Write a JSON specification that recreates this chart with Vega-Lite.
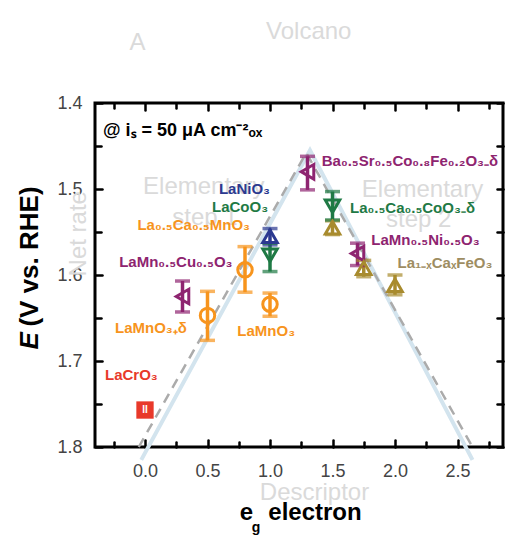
{
  "$schema": "https://vega.github.io/schema/vega-lite/v6.json",
  "width": 408,
  "height": 344,
  "autosize": {"type": "none"},
  "padding": {"left": 95, "top": 103, "right": 3, "bottom": 88},
  "background": "white",
  "config": {"view": {"stroke": "black", "strokeWidth": 3}, "font": "Liberation Sans"},
  "datasets": {
    "pts": [
      {"name": "LaCrO3", "grp": "Cr", "x": 0.0, "y": 1.757, "lo": 1.752, "hi": 1.762},
      {"name": "LaMn0.5Cu0.5O3", "grp": "Pu", "x": 0.3, "y": 1.625, "lo": 1.607, "hi": 1.643},
      {"name": "LaMnO3+d", "grp": "Mn", "x": 0.5, "y": 1.647, "lo": 1.619, "hi": 1.676},
      {"name": "La0.5Ca0.5MnO3", "grp": "Mn", "x": 0.8, "y": 1.594, "lo": 1.567, "hi": 1.62},
      {"name": "LaMnO3", "grp": "Mn", "x": 1.0, "y": 1.634, "lo": 1.621, "hi": 1.648},
      {"name": "LaNiO3", "grp": "Ni", "x": 1.0, "y": 1.555, "lo": 1.546, "hi": 1.565},
      {"name": "LaCoO3", "grp": "Co", "x": 1.0, "y": 1.577, "lo": 1.563, "hi": 1.596},
      {"name": "BSCF", "grp": "Pu", "x": 1.3, "y": 1.48, "lo": 1.462, "hi": 1.501},
      {"name": "La1-xCaxFeO3", "grp": "Fe", "x": 1.5, "y": 1.545, "lo": 1.537, "hi": 1.553},
      {"name": "La0.5Ca0.5CoO3-d", "grp": "Co", "x": 1.5, "y": 1.52, "lo": 1.503, "hi": 1.536},
      {"name": "LaMn0.5Ni0.5O3", "grp": "Pu", "x": 1.7, "y": 1.575, "lo": 1.563, "hi": 1.589},
      {"name": "La1-xCaxFeO3", "grp": "Fe", "x": 1.75, "y": 1.592, "lo": 1.583, "hi": 1.602},
      {"name": "La1-xCaxFeO3", "grp": "Fe", "x": 2.0, "y": 1.612, "lo": 1.6, "hi": 1.623}
    ],
    "vol": [
      {"k": "dash", "x": -0.05, "y": 1.8},
      {"k": "dash", "x": 1.29, "y": 1.458},
      {"k": "dash", "x": 2.62, "y": 1.8},
      {"k": "blue", "x": -0.03, "y": 1.815},
      {"k": "blue", "x": 1.32, "y": 1.455},
      {"k": "blue", "x": 2.62, "y": 1.815}
    ],
    "labR": [
      {"t": "LaNiO₃", "grp": "Ni", "x": 1.0, "y": 1.5},
      {"t": "LaCoO₃", "grp": "Co", "x": 0.985, "y": 1.521},
      {"t": "La₀.₅Ca₀.₅MnO₃", "grp": "Mn", "x": 0.84, "y": 1.542},
      {"t": "LaMn₀.₅Cu₀.₅O₃", "grp": "Pu", "x": 0.7, "y": 1.585}
    ],
    "labL": [
      {"t": "LaMnO₃₊δ", "grp": "Mn", "x": -0.24, "y": 1.662},
      {"t": "LaCrO₃", "grp": "Cr", "x": -0.32, "y": 1.716},
      {"t": "Ba₀.₅Sr₀.₅Co₀.₈Fe₀.₂O₃₋δ", "grp": "Pu", "x": 1.414, "y": 1.468},
      {"t": "La₀.₅Ca₀.₅CoO₃₋δ", "grp": "Co", "x": 1.64, "y": 1.522},
      {"t": "LaMn₀.₅Ni₀.₅O₃", "grp": "Pu", "x": 1.81, "y": 1.559},
      {"t": "La₁₋ₓCaₓFeO₃", "grp": "Fe", "x": 2.02, "y": 1.586}
    ],
    "labC": [
      {"t": "LaMnO₃", "grp": "Mn", "x": 0.97, "y": 1.665}
    ],
    "bg": [
      {"t": "A", "x": -0.06, "y": 1.33},
      {"t": "Volcano", "x": 1.31, "y": 1.318},
      {"t": "Elementary", "x": 0.47, "y": 1.498},
      {"t": "step 1", "x": 0.48, "y": 1.534},
      {"t": "Elementary", "x": 2.22, "y": 1.501},
      {"t": "step 2", "x": 2.19, "y": 1.536},
      {"t": "Descriptor", "x": 1.356, "y": 1.853}
    ]
  },
  "resolve": {"axis": {"x": "independent", "y": "independent"}, "scale": {"color": "independent"}},
  "encoding": {
    "x": {"field": "x", "type": "quantitative", "scale": {"domain": [-0.4, 2.864], "nice": false, "zero": false}, "axis": null},
    "y": {"field": "y", "type": "quantitative", "scale": {"domain": [1.4, 1.8], "reverse": true, "nice": false, "zero": false}, "axis": null}
  },
  "layer": [
    {
      "data": {"name": "bg"},
      "mark": {"type": "text", "fontSize": 24, "color": "#dadada", "align": "center", "baseline": "middle", "font": "Liberation Sans"},
      "encoding": {"text": {"field": "t"}}
    },
    {
      "data": {"values": [{"t": "Net rate", "x": -0.53, "y": 1.552}]},
      "mark": {"type": "text", "fontSize": 24, "color": "#dadada", "align": "center", "baseline": "middle", "angle": 270},
      "encoding": {"text": {"field": "t"}}
    },
    {
      "data": {"name": "vol"},
      "transform": [{"filter": "datum.k == 'blue'"}],
      "mark": {"type": "line", "color": "#d3e4ee", "strokeWidth": 4},
      "encoding": {}
    },
    {
      "data": {"name": "vol"},
      "transform": [{"filter": "datum.k == 'dash'"}],
      "mark": {"type": "line", "color": "#ababab", "strokeWidth": 2.5, "strokeDash": [10, 7]},
      "encoding": {
        "x": {"field": "x", "type": "quantitative", "scale": {"domain": [-0.4, 2.864], "nice": false, "zero": false},
          "axis": {"orient": "bottom", "values": [-0.25, 0, 0.25, 0.5, 0.75, 1, 1.25, 1.5, 1.75, 2, 2.25, 2.5, 2.75],
            "labelExpr": "datum.value % 0.5 == 0 ? format(datum.value, '.1f') : ''",
            "tickSize": {"condition": {"test": "datum.value % 0.5 == 0", "value": -7}, "value": -5},
            "tickWidth": 2.5, "tickColor": "black", "tickCap": "round", "domain": false, "grid": false,
            "labelPadding": 22, "labelFontSize": 18, "labelColor": "#444", "labelFont": "Liberation Sans",
            "labelFlush": false, "labelOverlap": false, "title": null}},
        "y": {"field": "y", "type": "quantitative", "scale": {"domain": [1.4, 1.8], "reverse": true, "nice": false, "zero": false},
          "axis": {"orient": "left", "values": [1.4, 1.45, 1.5, 1.55, 1.6, 1.65, 1.7, 1.75, 1.8],
            "labelExpr": "round(datum.value * 100) % 10 == 0 ? format(datum.value, '.1f') : ''",
            "tickSize": {"condition": {"test": "round(datum.value * 100) % 10 == 0", "value": -7}, "value": -6},
            "tickWidth": 2.5, "tickColor": "black", "tickCap": "round", "domain": false, "grid": false,
            "labelPadding": 20, "labelFontSize": 18, "labelColor": "#444", "labelFont": "Liberation Sans",
            "labelFlush": false, "labelOverlap": false, "title": null}}
      }
    },
    {
      "data": {"name": "pts"},
      "transform": [{"filter": "datum.grp != 'Cr'"}],
      "mark": {"type": "rule", "strokeWidth": 3.5},
      "encoding": {
        "y": {"field": "lo", "type": "quantitative", "scale": {"domain": [1.4, 1.8], "reverse": true, "nice": false, "zero": false}, "axis": null},
        "y2": {"field": "hi"},
        "color": {"field": "grp", "type": "nominal", "legend": null,
          "scale": {"domain": ["Cr", "Mn", "Pu", "Ni", "Co", "Fe"], "range": ["#e8392a", "#f7941d", "#8e2470", "#2b3990", "#1f7a45", "#a88b2e"]}}
      }
    },
    {
      "data": {"name": "pts"},
      "transform": [{"filter": "datum.grp != 'Cr'"}, {"fold": ["lo", "hi"], "as": ["end", "yv"]}],
      "mark": {"type": "tick", "orient": "horizontal", "size": 15, "thickness": 3.5},
      "encoding": {
        "y": {"field": "yv", "type": "quantitative", "scale": {"domain": [1.4, 1.8], "reverse": true, "nice": false, "zero": false}, "axis": null},
        "color": {"field": "grp", "type": "nominal", "legend": null,
          "scale": {"domain": ["Cr", "Mn", "Pu", "Ni", "Co", "Fe"], "range": ["#e8392a", "#f7941d", "#8e2470", "#2b3990", "#1f7a45", "#a88b2e"]}}
      }
    },
    {
      "data": {"name": "pts"},
      "transform": [{"filter": "datum.grp != 'Cr'"}],
      "mark": {"type": "point", "filled": false, "strokeWidth": 3, "size": 210, "opacity": 1},
      "encoding": {
        "x": {"field": "x", "type": "quantitative", "scale": {"domain": [-0.4, 2.864], "nice": false, "zero": false},
          "axis": {"orient": "top", "values": [-0.25, 0, 0.25, 0.5, 0.75, 1, 1.25, 1.5, 1.75, 2, 2.25, 2.5, 2.75],
            "labels": false,
            "tickSize": {"condition": {"test": "datum.value % 0.5 == 0", "value": -7}, "value": -5},
            "tickWidth": 2.5, "tickColor": "black", "tickCap": "round", "domain": false, "grid": false, "title": null}},
        "y": {"field": "y", "type": "quantitative", "scale": {"domain": [1.4, 1.8], "reverse": true, "nice": false, "zero": false},
          "axis": {"orient": "right", "values": [1.4, 1.45, 1.5, 1.55, 1.6, 1.65, 1.7, 1.75, 1.8],
            "labels": false, "tickSize": -6,
            "tickWidth": 2.5, "tickColor": "black", "tickCap": "round", "domain": false, "grid": false, "title": null}},
        "color": {"field": "grp", "type": "nominal", "legend": null,
          "scale": {"domain": ["Cr", "Mn", "Pu", "Ni", "Co", "Fe"], "range": ["#e8392a", "#f7941d", "#8e2470", "#2b3990", "#1f7a45", "#a88b2e"]}},
        "shape": {"field": "grp", "type": "nominal", "legend": null,
          "scale": {"domain": ["Cr", "Mn", "Pu", "Ni", "Co", "Fe"], "range": ["square", "circle", "triangle-left", "triangle-up", "triangle-down", "triangle-up"]}}
      }
    },
    {
      "data": {"name": "pts"},
      "transform": [{"filter": "datum.grp == 'Cr'"}],
      "mark": {"type": "point", "filled": true, "shape": "square", "size": 300, "color": "#e8392a", "opacity": 1}
    },
    {
      "data": {"name": "pts"},
      "transform": [{"filter": "datum.grp == 'Cr'"}],
      "mark": {"type": "text", "text": "II", "fontSize": 10, "fontWeight": "bold", "color": "white", "align": "center", "baseline": "middle"}
    },
    {
      "data": {"name": "labR"},
      "mark": {"type": "text", "fontSize": 15, "fontWeight": "bold", "align": "right", "baseline": "middle"},
      "encoding": {
        "text": {"field": "t"},
        "color": {"field": "grp", "type": "nominal", "legend": null,
          "scale": {"domain": ["Cr", "Mn", "Pu", "Ni", "Co", "Fe"], "range": ["#e8392a", "#f7941d", "#8e2470", "#2b3990", "#1f7a45", "#9e8d62"]}}
      }
    },
    {
      "data": {"name": "labL"},
      "mark": {"type": "text", "fontSize": 15, "fontWeight": "bold", "align": "left", "baseline": "middle"},
      "encoding": {
        "text": {"field": "t"},
        "color": {"field": "grp", "type": "nominal", "legend": null,
          "scale": {"domain": ["Cr", "Mn", "Pu", "Ni", "Co", "Fe"], "range": ["#e8392a", "#f7941d", "#8e2470", "#2b3990", "#1f7a45", "#9e8d62"]}}
      }
    },
    {
      "data": {"name": "labC"},
      "mark": {"type": "text", "fontSize": 15, "fontWeight": "bold", "align": "center", "baseline": "middle", "color": "#f7941d"},
      "encoding": {"text": {"field": "t"}}
    },
    {
      "data": {"values": [{"t": "@ iₛ = 50 μA cm⁻²ₒₓ", "x": -0.336, "y": 1.433}]},
      "mark": {"type": "text", "fontSize": 18, "fontWeight": "bold", "align": "left", "baseline": "middle", "color": "black"},
      "encoding": {"text": {"field": "t"}}
    },
    {
      "data": {"values": [{"t": "E", "x": -0.92, "y": 1.6765}]},
      "mark": {"type": "text", "fontSize": 26, "fontWeight": "bold", "fontStyle": "italic", "align": "center", "baseline": "middle", "angle": 270, "color": "black"},
      "encoding": {"text": {"field": "t"}}
    },
    {
      "data": {"values": [{"t": "(V vs. RHE)", "x": -0.92, "y": 1.5785}]},
      "mark": {"type": "text", "fontSize": 26, "fontWeight": "bold", "align": "center", "baseline": "middle", "angle": 270, "color": "black"},
      "encoding": {"text": {"field": "t"}}
    },
    {
      "data": {"values": [{"t": "e", "x": 0.812, "y": 1.885}, {"t": "electron", "x": 1.36, "y": 1.885}]},
      "mark": {"type": "text", "fontSize": 24, "fontWeight": "bold", "align": "center", "baseline": "alphabetic", "color": "black"},
      "encoding": {"text": {"field": "t"}}
    },
    {
      "data": {"values": [{"t": "g", "x": 0.888, "y": 1.899}]},
      "mark": {"type": "text", "fontSize": 14, "fontWeight": "bold", "align": "center", "baseline": "alphabetic", "color": "black"},
      "encoding": {"text": {"field": "t"}}
    }
  ]
}
